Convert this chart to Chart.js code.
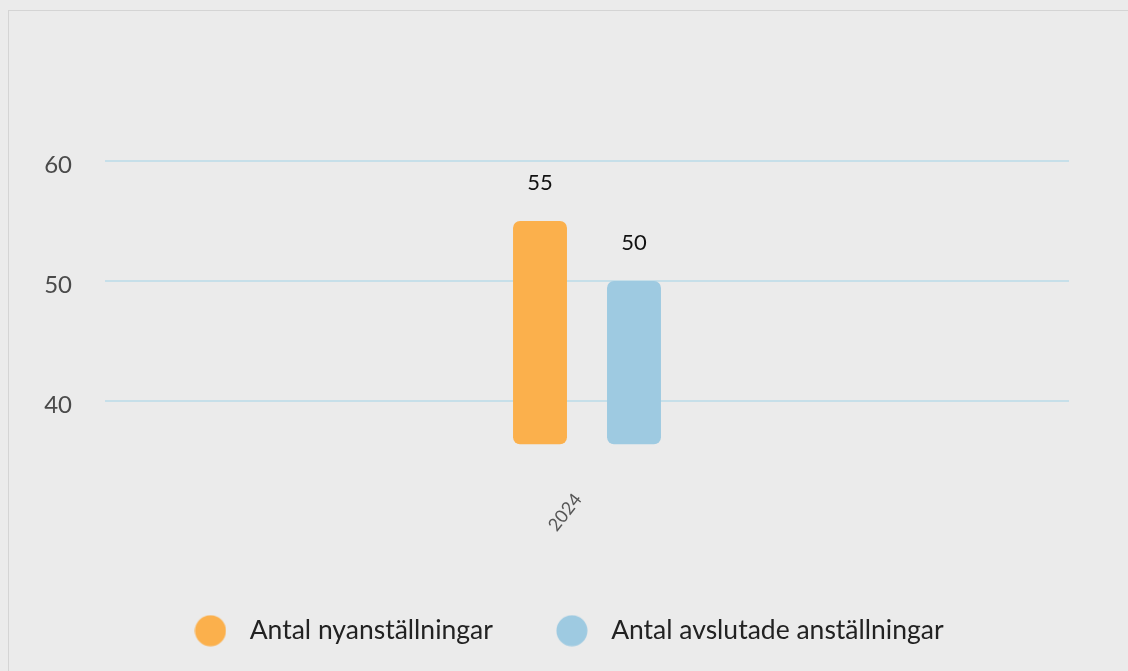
<!DOCTYPE html>
<html>
<head>
<meta charset="utf-8">
<script src="https://cdn.jsdelivr.net/npm/chart.js@4"></script>
<style>
  html, body { margin: 0; padding: 0; background: #ebebeb; overflow: hidden; }
  .frame { position: absolute; left: 8px; top: 10px; width: 1300px; height: 900px; border: 1px solid #d4d4d4; }
  .wrap { position: absolute; left: 0; top: 0; width: 1128px; height: 671px; }
</style>
</head>
<body>
<div class="frame"></div>
<div class="wrap"><canvas id="chart" width="1128" height="671"></canvas></div>
<script>
// data
const years = ['2024'];
const hired = [55];
const ended = [50];
const yMin = 36.4;
const yMax = 60;
const tickValues = [40, 50, 60];
const seriesNames = ['Antal nyanställningar', 'Antal avslutade anställningar'];
const seriesColors = ['#fbb04c', '#9ecae1'];

// circle legend marker with extra room on the sides
function legendDot(color) {
    const c = document.createElement('canvas');
    c.width = 32; c.height = 32;
    const g = c.getContext('2d');
    g.fillStyle = color;
    g.beginPath();
    g.arc(16, 16, 15.5, 0, Math.PI * 2);
    g.fill();
    return c;
}

// value labels above bars
const valueLabels = {
    id: 'valueLabels',
    afterDatasetsDraw(chart) {
        const ctx = chart.ctx;
        ctx.save();
        ctx.font = '22px Lato';
        ctx.fillStyle = '#111';
        ctx.textAlign = 'center';
        ctx.textBaseline = 'middle';
        chart.data.datasets.forEach((ds, i) => {
            chart.getDatasetMeta(i).data.forEach((bar, j) => {
                ctx.fillText(ds.data[j], bar.x, bar.y - 38);
            });
        });
        ctx.restore();
    }
};

// center the legend under the whole canvas rather than the padded box
const legendShift = {
    id: 'legendShift',
    afterLayout(chart) {
        chart.legend.left += 17;
        chart.legend.right += 17;
    }
};

const ctx = document.getElementById('chart').getContext('2d');
new Chart(ctx, {
    type: 'bar',
    data: {
        labels: years,
        datasets: [{
            label: seriesNames[0],
            data: hired,
            base: yMin,
            backgroundColor: seriesColors[0],
            borderRadius: 7,
            borderSkipped: false,
            clip: false,
            pointStyle: legendDot(seriesColors[0])
        }, {
            label: seriesNames[1],
            data: ended,
            base: yMin,
            backgroundColor: seriesColors[1],
            borderRadius: 7,
            borderSkipped: false,
            clip: false,
            pointStyle: legendDot(seriesColors[1])
        }]
    },
    options: {
        responsive: false,
        animation: false,
        categoryPercentage: 0.195,
        barPercentage: 0.574,
        layout: {
            padding: { top: 161, left: 25, right: 59, bottom: 17 }
        },
        plugins: {
            legend: {
                position: 'bottom',
                labels: {
                    usePointStyle: true,
                    pointStyleWidth: 52,
                    boxHeight: 22,
                    padding: 53,
                    color: '#222',
                    font: { family: 'Lato', size: 26.5 }
                }
            },
            tooltip: { enabled: false }
        },
        scales: {
            x: {
                grid: { display: false },
                border: { display: false },
                ticks: {
                    minRotation: 52,
                    maxRotation: 52,
                    color: '#555',
                    padding: 37,
                    labelOffset: -9,
                    font: { family: 'Lato', size: 18 }
                },
                afterFit(scale) {
                    scale.height -= 8;
                }
            },
            y: {
                min: yMin,
                max: yMax,
                afterBuildTicks(scale) {
                    scale.ticks = tickValues.map(v => ({ value: v }));
                },
                afterFit(scale) {
                    scale.width = 80;
                },
                grid: { color: '#c6dfe9', lineWidth: 2, drawTicks: false },
                border: { display: false },
                ticks: {
                    padding: 33,
                    labelOffset: 4,
                    color: '#4a4a4a',
                    font: { family: 'Lato', size: 24 }
                }
            }
        }
    },
    plugins: [valueLabels, legendShift]
});
</script>
</body>
</html>
